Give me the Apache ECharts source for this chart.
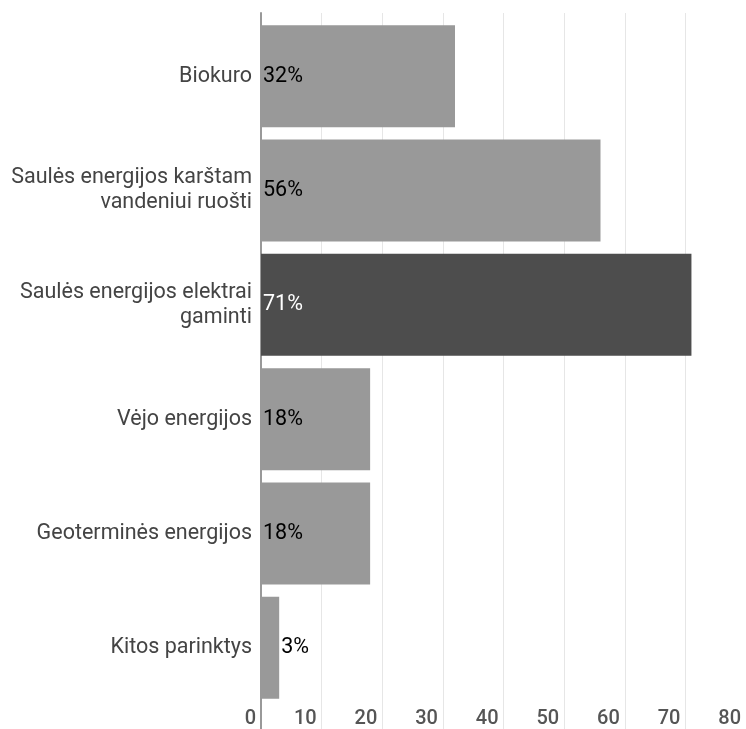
<!DOCTYPE html>
<html>
<head>
<meta charset="utf-8">
<script src="https://cdn.jsdelivr.net/npm/echarts@6/dist/echarts.min.js"></script>
<style>
html,body{margin:0;padding:0;background:#fff;}
#chart{width:746px;height:729px;}
</style>
</head>
<body>
<div id="chart"></div>
<script>
const categories = [
  'Biokuro',
  'Saulės energijos karštam\nvandeniui ruošti',
  'Saulės energijos elektrai\ngaminti',
  'Vėjo energijos',
  'Geoterminės energijos',
  'Kitos parinktys'
];
const values = [32, 56, 71, 18, 18, 3];
const highlightIndex = 2;
const axisMin = 0, axisMax = 80, axisStep = 10;

const chart = echarts.init(document.getElementById('chart'), null, {renderer: 'canvas'});
const FONT = 'Roboto';

const barData = values.map((v, i) => {
  const item = { value: v };
  if (i === highlightIndex) {
    item.itemStyle = { color: '#4d4d4d' };
    item.label = { color: '#ffffff' };
  }
  if (v < 6) {
    item.label = Object.assign({}, item.label, { position: 'right', distance: 2 });
  }
  return item;
});

chart.setOption({
  animation: false,
  backgroundColor: '#ffffff',
  grid: [
    { left: 261, right: 0, top: 13, bottom: 0, containLabel: false },
    { left: 261, right: 0, top: 19, height: 686, containLabel: false }
  ],
  xAxis: [
    {
      gridIndex: 0, type: 'value', min: axisMin, max: axisMax, interval: axisStep,
      axisLine: { show: false }, axisTick: { show: false },
      splitLine: { show: true, lineStyle: { color: '#e6e6e6', width: 1 } },
      axisLabel: {
        inside: true, margin: 0, align: 'right', padding: [0, 5, 0, 0],
        showMinLabel: true, showMaxLabel: true,
        fontFamily: FONT, fontSize: 20, fontWeight: 500, color: '#555555'
      }
    },
    {
      gridIndex: 1, type: 'value', min: axisMin, max: axisMax, interval: axisStep,
      show: false
    }
  ],
  yAxis: [
    {
      gridIndex: 0, type: 'value', min: 0, max: 1,
      axisLine: { show: true, onZero: false, lineStyle: { color: '#999999', width: 2 } },
      axisTick: { show: false }, axisLabel: { show: false }, splitLine: { show: false }
    },
    {
      gridIndex: 1, type: 'category', inverse: true, data: categories,
      axisLine: { show: false }, axisTick: { show: false },
      axisLabel: {
        margin: 9, fontFamily: FONT, fontSize: 21.5, lineHeight: 25,
        color: '#444444', align: 'right'
      }
    }
  ],
  series: [
    {
      type: 'bar', xAxisIndex: 1, yAxisIndex: 1,
      data: barData,
      barCategoryGap: '10.8%',
      itemStyle: { color: '#999999' },
      label: {
        show: true, position: 'insideLeft', distance: 2,
        formatter: '{c}%', fontFamily: FONT, fontSize: 21.5, color: '#000000'
      }
    }
  ]
});
</script>
</body>
</html>
